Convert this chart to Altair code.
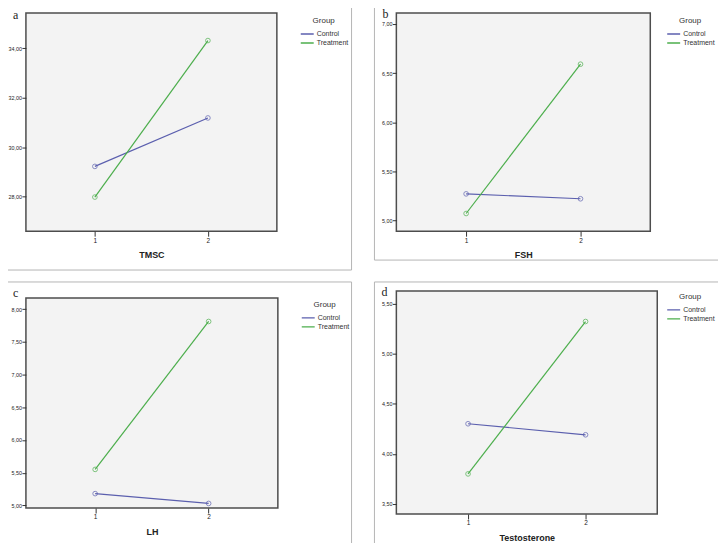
import altair as alt
import pandas as pd

# ---------------- data ----------------
groups = ["Control", "Treatment"]
levels = [1, 2]

tmsc_control = [29.22, 31.18]
tmsc_treatment = [27.98, 34.31]
fsh_control = [5.27, 5.22]
fsh_treatment = [5.07, 6.59]
lh_control = [5.18, 5.03]
lh_treatment = [5.55, 7.81]
testo_control = [4.30, 4.19]
testo_treatment = [3.80, 5.32]

panel_letters = ["a", "b", "c", "d"]
panel_titles = ["TMSC", "FSH", "LH", "Testosterone"]
y_tick_values = [
    [28, 30, 32, 34],
    [5.0, 5.5, 6.0, 6.5, 7.0],
    [5.0, 5.5, 6.0, 6.5, 7.0, 7.5, 8.0],
    [3.5, 4.0, 4.5, 5.0, 5.5],
]
y_domains = [[26.6, 35.42], [4.89, 7.11], [4.96, 8.17], [3.40, 5.625]]
x_domain = [0.39, 2.61]

# ---------------- styling / layout ----------------
colors = ["#5b5fae", "#4cae4c"]
SANS = "Liberation Sans, Arial, sans-serif"

# plot areas on the page: left, top, width, height
plots = [(25, 13, 252, 219), (395, 14, 255, 219), (25, 297, 253, 211), (395, 291, 262, 224)]
letter_offsets = [(-13, 6), (-14, 5), (-13, -1), (-15, 5)]
legend_offsets = [(275, 4), (271, 4), (276, 3), (271, 2)]
# light outer frame segments of each picture, page coordinates (x1, y1, x2, y2)
frame_segments = [
    [(352, 0, 352, 271), (1, 271, 352, 271)],
    [(373, 0, 373, 262), (373, 262, 740, 262)],
    [(1, 281, 352, 281), (352, 281, 352, 580)],
    [(373, 282, 740, 282), (373, 282, 373, 580)],
]

one_row = pd.DataFrame({"k": [0]})


def panel(i, ctrl, trt):
    L, T, W, H = plots[i]
    df = pd.DataFrame({
        "level": levels * 2,
        "group": [g for g in groups for _ in levels],
        "mean": list(ctrl) + list(trt),
    })
    x = alt.X(
        "level:Q",
        scale=alt.Scale(domain=x_domain, nice=False, zero=False),
        axis=alt.Axis(
            values=levels, format="d", title=panel_titles[i], tickSize=5,
            labelFontSize=6.5, labelFont=SANS, labelPadding=1, labelColor="#222",
            titleFontSize=9, titleFont=SANS, titleFontWeight="bold", titleColor="#222",
            titlePadding=7, domain=False, grid=False, tickColor="#333",
        ),
    )
    y = alt.Y(
        "mean:Q",
        scale=alt.Scale(domain=y_domains[i], nice=False, zero=False),
        axis=alt.Axis(
            values=y_tick_values[i], title=None, tickSize=4,
            labelExpr="replace(format(datum.value, '.2f'), '.', ',')",
            labelFontSize=5.4, labelFont=SANS, labelPadding=0.5, labelColor="#222",
            domain=False, grid=False, tickColor="#333",
        ),
    )
    color_scale = alt.Scale(domain=groups, range=colors)
    lgx, lgy = legend_offsets[i]
    lines = alt.Chart(df).mark_line(strokeWidth=1.2).encode(
        x=x, y=y,
        color=alt.Color(
            "group:N", scale=color_scale,
            legend=alt.Legend(
                title="Group", orient="none", legendX=lgx, legendY=lgy, padding=0,
                titleAnchor="middle", titleFontSize=8, titleFont=SANS,
                titleFontWeight="normal", titleColor="#333", titlePadding=5,
                labelFontSize=7, labelFont=SANS, labelColor="#333", labelOffset=2,
                symbolType="stroke", symbolSize=169, symbolStrokeWidth=1.3,
                clipHeight=8, rowPadding=1,
            ),
        ),
    )
    points = alt.Chart(df).mark_point(filled=False, size=22, strokeWidth=1).encode(
        x=x, y=y, color=alt.Color("group:N", scale=color_scale, legend=None)
    )
    lx, ly = letter_offsets[i]
    letter = alt.Chart(one_row).mark_text(
        font="Liberation Serif, Times New Roman, serif", fontSize=12,
        align="left", baseline="alphabetic", color="#222",
    ).encode(x=alt.value(lx), y=alt.value(ly), text=alt.value(panel_letters[i]))
    frames = []
    for (x1, y1, x2, y2) in frame_segments[i]:
        frames.append(
            alt.Chart(one_row).mark_rule(color="#b4b4b4", strokeWidth=1).encode(
                x=alt.value(x1 - L), y=alt.value(y1 - T),
                x2=alt.value(x2 - L), y2=alt.value(y2 - T),
            )
        )
    return alt.layer(lines, points, letter, *frames).properties(width=W, height=H)


pa = panel(0, tmsc_control, tmsc_treatment)
pb = panel(1, fsh_control, fsh_treatment)
pc = panel(2, lh_control, lh_treatment)
pd_ = panel(3, testo_control, testo_treatment)

col1 = alt.vconcat(pa, pc, spacing=8).resolve_scale(color="independent").resolve_legend(color="independent")
col2 = alt.vconcat(pb, pd_, spacing=18).resolve_scale(color="independent").resolve_legend(color="independent")

chart = (
    alt.hconcat(col1, col2, spacing=19)
    .resolve_scale(color="independent")
    .resolve_legend(color="independent")
    .properties(padding={"left": -8, "top": -12, "right": -24, "bottom": -40})
    .configure(background="white")
    .configure_view(stroke="#4d4d4d", strokeWidth=1.5, fill="#f3f3f3")
)

chart.save("out.html", embed_options={"renderer": "svg", "actions": False})
